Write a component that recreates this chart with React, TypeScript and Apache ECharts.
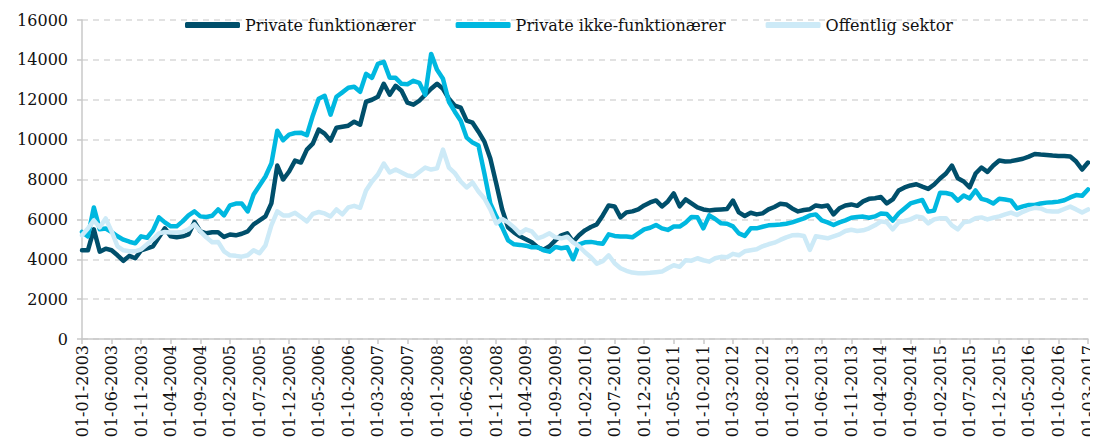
import React, { useEffect, useRef } from "react";
import * as echarts from "echarts";

// Monthly categories from 01-01-2003 to 01-03-2017
const startYear = 2003;
const monthCount = 171;
const categories: string[] = [];
for (let k = 0; k < monthCount; k++) {
  const y = startYear + Math.floor(k / 12);
  const m = (k % 12) + 1;
  categories.push(`01-${m < 10 ? "0" + m : m}-${y}`);
}

const seriesNames = ["Private funktionærer", "Private ikke-funktionærer", "Offentlig sektor"];

const privateFunktionaerer = [
  4450, 4450, 5500, 4380, 4530, 4450, 4200, 3920, 4170, 4050,
  4450, 4550, 4650, 5100, 5550, 5150, 5100, 5150, 5250, 5870,
  5400, 5300, 5350, 5350, 5120, 5240, 5200, 5280, 5400, 5750,
  5950, 6150, 6800, 8700, 8000, 8400, 8950, 8850, 9500, 9800,
  10500, 10300, 9950, 10600, 10650, 10700, 10900, 10750, 11900, 12000,
  12150, 12800, 12250, 12700, 12450, 11850, 11750, 11950, 12250, 12550,
  12800, 12550, 12050, 11700, 11600, 10950, 10850, 10400, 9900, 9050,
  7800, 6500, 5600, 5350, 5150, 5000, 4850, 4600, 4480, 4650,
  4950, 5200, 5300, 4880, 5200, 5450, 5620, 5750, 6200, 6700,
  6650, 6100, 6350, 6400, 6500, 6700, 6850, 6950, 6650, 6900,
  7300, 6650, 7000, 6800, 6600, 6500, 6450, 6480, 6500, 6520,
  6940, 6350, 6170, 6330, 6250, 6300, 6500, 6620, 6780, 6750,
  6550, 6400, 6470, 6510, 6700, 6650, 6700, 6250, 6560, 6700,
  6750, 6680, 6900, 7030, 7060, 7120, 6800, 7000, 7450, 7600,
  7700, 7760, 7640, 7530, 7750, 8050, 8300, 8700, 8060, 7900,
  7600, 8300, 8600, 8380, 8700, 8950, 8900, 8920, 8980, 9040,
  9150, 9280, 9250, 9230, 9200, 9180, 9180, 9150, 8900, 8500,
  8850,
];

const privateIkkeFunktionaerer = [
  5370, 5150, 6600, 5500, 5540, 5370, 5150, 4980, 4880, 4800,
  5150, 5080, 5450, 6100, 5850, 5650, 5650, 5900, 6200, 6400,
  6150, 6120, 6180, 6500, 6200, 6700, 6790, 6790, 6400, 7250,
  7700, 8150, 8800, 10450, 9970, 10250, 10330, 10350, 10220, 11200,
  12050, 12200, 11250, 12150, 12370, 12600, 12650, 12400, 13300, 13100,
  13800, 13900, 13100, 13100, 12800, 12780, 12950, 12850, 12250, 14300,
  13500, 13050, 11900, 11400, 10950, 10100, 9850, 9700, 8300, 6800,
  6150, 5600, 4950, 4750, 4720, 4680, 4600, 4600, 4450, 4380,
  4620, 4550, 4600, 4000, 4750, 4850, 4870, 4820, 4780, 5250,
  5170, 5140, 5140, 5100, 5300, 5500, 5580, 5720, 5550, 5470,
  5640, 5640, 5840, 6120, 6110, 5550, 6200, 6020, 5800, 5780,
  5650, 5300, 5170, 5550, 5550, 5630, 5700, 5720, 5740, 5780,
  5850, 5950, 6050, 6200, 6250, 5950, 5850, 5720, 5850, 5950,
  6080, 6120, 6140, 6080, 6150, 6300, 6270, 5940, 6300, 6550,
  6800, 6890, 6970, 6390, 6440, 7340, 7320, 7250, 6940, 7200,
  7050, 7450, 7030, 6950, 6800, 7030, 7000, 6940, 6550, 6650,
  6720, 6720, 6800, 6840, 6860, 6890, 6960, 7100, 7220, 7180,
  7500,
];

const offentligSektor = [
  5200, 5540, 5950, 5600, 6050, 5400, 4650, 4450, 4400, 4400,
  4500, 4750, 5000, 5300, 5370, 5340, 5340, 5370, 5500, 5750,
  5400, 5100, 4850, 4870, 4400, 4200, 4170, 4130, 4200, 4450,
  4300, 4700, 5700, 6400, 6200, 6200, 6330, 6120, 5900, 6280,
  6370, 6300, 6150, 6500, 6250, 6600, 6680, 6580, 7450, 7900,
  8250, 8800, 8350, 8500, 8350, 8200, 8150, 8380, 8600, 8500,
  8560, 9500, 8600, 8320, 7900, 7600, 7850, 7400, 7050, 6500,
  5800, 6020, 5850, 5600, 5300, 5500, 5400, 5050, 5150, 5300,
  5100, 5050, 5130, 4850, 4650, 4350, 4100, 3780, 3900, 4200,
  3800, 3550, 3420, 3330, 3300, 3300, 3320, 3350, 3380, 3550,
  3700, 3620, 3950, 3930, 4050, 3950, 3880, 4050, 4120, 4100,
  4270, 4200, 4400, 4450, 4500, 4650, 4750, 4830, 4970, 5100,
  5200, 5220, 5170, 4470, 5150, 5100, 5050, 5150, 5250, 5420,
  5480, 5420, 5450, 5550, 5700, 5900, 5850, 5500, 5850, 5920,
  6000, 6150, 6100, 5800, 6000, 6060, 6060, 5700, 5500, 5850,
  5900, 6060, 6100, 6000, 6080, 6150, 6250, 6340, 6220, 6380,
  6500, 6580, 6550, 6420, 6390, 6400, 6520, 6640, 6500, 6340,
  6500,
];

const colors = ["#004F6B", "#00B8E0", "#CDEAF7"];
const fontFamily = "'DejaVu Serif', Georgia, serif";

export default function App() {
  const ref = useRef<HTMLDivElement>(null);
  useEffect(() => {
    if (!ref.current) return;
    const chart = echarts.init(ref.current, undefined, { renderer: "svg" });
    const dataSets = [privateFunktionaerer, privateIkkeFunktionaerer, offentligSektor];
    chart.setOption({
      animation: false,
      color: colors,
      textStyle: { fontFamily },
      legend: {
        left: 172,
        top: 4,
        itemWidth: 55,
        itemHeight: 6,
        itemGap: 40,
        icon: "roundRect",
        textStyle: { fontFamily, fontSize: 16, color: "#111" },
        data: seriesNames,
      },
      grid: { left: 74, right: 10, top: 12, bottom: 109 },
      xAxis: {
        type: "category",
        data: categories,
        boundaryGap: false,
        axisLine: { lineStyle: { color: "#c8c8c8", width: 1.5 } },
        axisTick: { interval: 4, length: 5, lineStyle: { color: "#c8c8c8", width: 1.5 } },
        axisLabel: {
          interval: 4,
          rotate: 90,
          fontFamily,
          fontSize: 16,
          color: "#111",
          margin: 6,
        },
        splitLine: { show: false },
      },
      yAxis: {
        type: "value",
        min: 0,
        max: 16000,
        interval: 2000,
        axisLine: { show: true, lineStyle: { color: "#c8c8c8", width: 1.5 } },
        axisTick: { show: true, length: 5, lineStyle: { color: "#c8c8c8", width: 1.5 } },
        axisLabel: {
          fontFamily,
          fontSize: 16,
          color: "#111",
          margin: 14,
          formatter: (v: number) => String(v),
        },
        splitLine: { lineStyle: { color: "#d9d9d9", width: 1.5, type: [6, 5] } },
      },
      series: seriesNames.map((name, k) => ({
        name,
        type: "line",
        data: dataSets[k],
        showSymbol: false,
        symbol: "none",
        lineStyle: { width: 4.5, color: colors[k], cap: "round", join: "round" },
        itemStyle: { color: colors[k] },
      })),
    });
    return () => chart.dispose();
  }, []);
  return <div ref={ref} style={{ width: 1090, height: 440 }} />;
}
